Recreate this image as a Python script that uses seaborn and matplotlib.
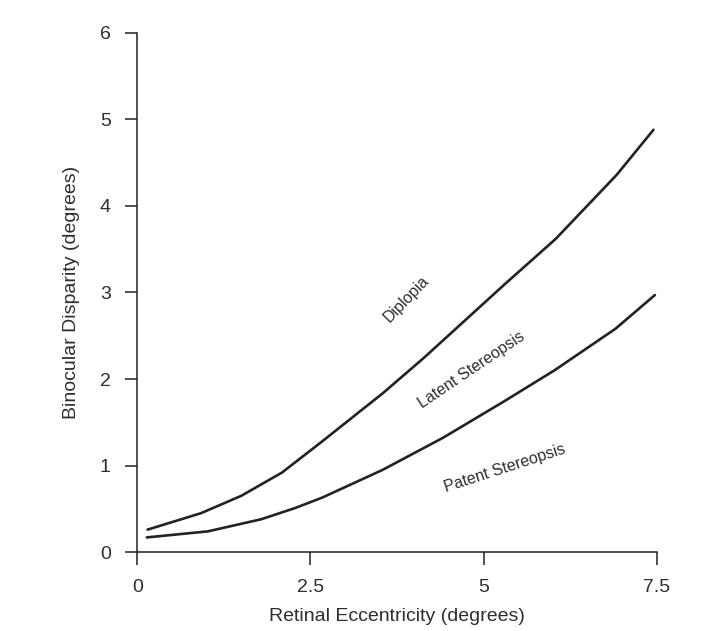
import matplotlib
matplotlib.use("Agg")
import matplotlib.pyplot as plt
import pandas as pd
import seaborn as sns

# values
diplopia_x = [0.15, 0.92, 1.50, 2.09, 2.67, 3.55, 4.13, 4.72, 5.31, 6.04, 6.92, 7.45]
diplopia_y = [0.26, 0.45, 0.65, 0.92, 1.28, 1.84, 2.24, 2.67, 3.10, 3.62, 4.36, 4.88]

patent_x = [0.14, 1.02, 1.79, 2.28, 2.67, 3.54, 4.41, 5.29, 6.02, 6.90, 7.47]
patent_y = [0.17, 0.24, 0.38, 0.51, 0.63, 0.95, 1.32, 1.74, 2.10, 2.58, 2.97]

x_ticks = [0, 2.5, 5, 7.5]
x_tick_labels = ["0", "2.5", "5", "7.5"]
y_ticks = [0, 1, 2, 3, 4, 5, 6]

df = pd.concat([
    pd.DataFrame({"ecc": diplopia_x, "disp": diplopia_y, "curve": "diplopia"}),
    pd.DataFrame({"ecc": patent_x, "disp": patent_y, "curve": "patent"}),
])

sns.set_style("white")
plt.rcParams["font.family"] = ["Liberation Sans", "DejaVu Sans"]

ink = "#222222"
txt = "#2e2e2e"
fig = plt.figure(figsize=(7.11, 6.31), dpi=100)
ax = fig.add_axes([0.193, 0.125, 0.731, 0.823])

sns.lineplot(data=df, x="ecc", y="disp", hue="curve", units="curve", estimator=None,
             palette={"diplopia": ink, "patent": ink}, linewidth=1.9,
             legend=False, sort=False, ax=ax,
             solid_joinstyle="round", solid_capstyle="round")

ax.set_xlim(0, 7.5)
ax.set_ylim(0, 6)
ax.set_xticks(x_ticks)
ax.set_xticklabels(x_tick_labels)
ax.set_yticks(y_ticks)
sns.despine(ax=ax)
for s in ["left", "bottom"]:
    ax.spines[s].set_color(ink)
    ax.spines[s].set_linewidth(1.1)
ax.tick_params(axis="both", direction="out", length=9, width=1.1, color=ink,
               labelsize=14, labelcolor=txt, pad=10)
ax.tick_params(axis="x", bottom=True)
ax.tick_params(axis="y", left=True)

ax.set_xlabel("Retinal Eccentricity (degrees)", fontsize=14, color=txt, labelpad=9)
ax.set_ylabel("Binocular Disparity (degrees)", fontsize=14, color=txt, labelpad=14)

# curve labels
ax.text(3.88, 2.92, "Diplopia", rotation=46, fontsize=11.5, color=txt,
        ha="center", va="center", rotation_mode="anchor")
ax.text(4.83, 2.10, "Latent Stereopsis", rotation=34, fontsize=11.5, color=txt,
        ha="center", va="center", rotation_mode="anchor")
ax.text(5.30, 0.97, "Patent Stereopsis", rotation=18, fontsize=11.5, color=txt,
        ha="center", va="center", rotation_mode="anchor")

fig.savefig("out.png", dpi=100)
